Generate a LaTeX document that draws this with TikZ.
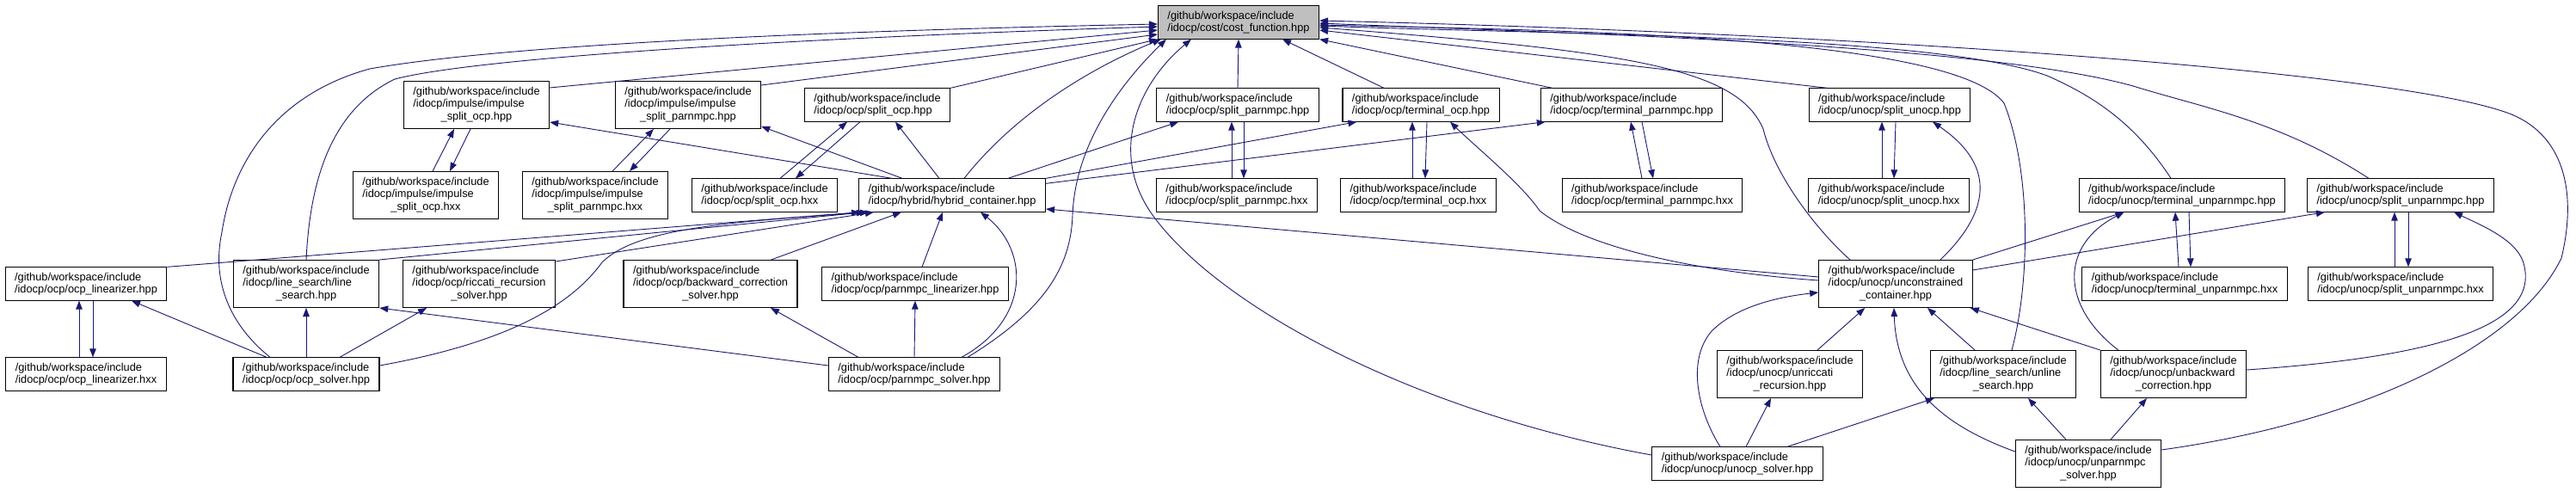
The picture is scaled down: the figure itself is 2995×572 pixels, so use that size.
\documentclass[tikz,border=0pt]{standalone}
\usepackage{fontspec}
\setmainfont{Liberation Sans}
\usetikzlibrary{arrows.meta}
\definecolor{dxblue}{RGB}{25,25,112}
\definecolor{dxgray}{RGB}{191,191,191}
\newcommand{\wsinc}{/github/workspace/include}
\newcommand{\threeln}[3]{\begin{tabular}{@{}l@{}}#1\\#2\\\multicolumn{1}{@{}c@{}}{#3}\end{tabular}}

\begin{document}
\begin{tikzpicture}[
  x=1pt,y=1pt,
  font=\fontsize{12.8}{14.3}\selectfont,
  file/.style={draw,line width=1.1pt,fill=white,align=left,inner xsep=11pt,inner ysep=6pt},
  root/.style={file,fill=dxgray},
  inc/.style={-{Triangle[length=10pt,width=7.5pt]},dxblue,line width=0.9pt}
]
  \useasboundingbox (0,0) rectangle (2995,-572);
  \node[root] (cost) at (1440,-26) {\wsinc\\/idocp/cost/cost\_function.hpp};
  \node[file] (isocp) at (554,-122) {\threeln{\wsinc}{/idocp/impulse/impulse}{\_split\_ocp.hpp}};
  \node[file] (ispm) at (800,-122) {\threeln{\wsinc}{/idocp/impulse/impulse}{\_split\_parnmpc.hpp}};
  \node[file] (socp) at (1020,-122) {\wsinc\\/idocp/ocp/split\_ocp.hpp};
  \node[file] (spm) at (1439,-122) {\wsinc\\/idocp/ocp/split\_parnmpc.hpp};
  \node[file] (tocp) at (1652,-122) {\wsinc\\/idocp/ocp/terminal\_ocp.hpp};
  \node[file] (tpm) at (1897,-122) {\wsinc\\/idocp/ocp/terminal\_parnmpc.hpp};
  \node[file] (suocp) at (2197,-122) {\wsinc\\/idocp/unocp/split\_unocp.hpp};
  \node[file] (isocpx) at (495,-227) {\threeln{\wsinc}{/idocp/impulse/impulse}{\_split\_ocp.hxx}};
  \node[file] (ispmx) at (692,-227) {\threeln{\wsinc}{/idocp/impulse/impulse}{\_split\_parnmpc.hxx}};
  \node[file] (socpx) at (889,-227) {\wsinc\\/idocp/ocp/split\_ocp.hxx};
  \node[file] (hyb) at (1107,-227) {\wsinc\\/idocp/hybrid/hybrid\_container.hpp};
  \node[file] (spmx) at (1438,-227) {\wsinc\\/idocp/ocp/split\_parnmpc.hxx};
  \node[file] (tocpx) at (1649,-227) {\wsinc\\/idocp/ocp/terminal\_ocp.hxx};
  \node[file] (tpmx) at (1921,-227) {\wsinc\\/idocp/ocp/terminal\_parnmpc.hxx};
  \node[file] (suocpx) at (2196,-227) {\wsinc\\/idocp/unocp/split\_unocp.hxx};
  \node[file] (tupm) at (2537,-227) {\wsinc\\/idocp/unocp/terminal\_unparnmpc.hpp};
  \node[file] (supm) at (2791,-227) {\wsinc\\/idocp/unocp/split\_unparnmpc.hpp};
  \node[file] (olin) at (100,-330) {\wsinc\\/idocp/ocp/ocp\_linearizer.hpp};
  \node[file] (ls) at (356,-330) {\threeln{\wsinc}{/idocp/line\_search/line}{\_search.hpp}};
  \node[file] (ric) at (557,-330) {\threeln{\wsinc}{/idocp/ocp/riccati\_recursion}{\_solver.hpp}};
  \node[file] (bwc) at (826,-330) {\threeln{\wsinc}{/idocp/ocp/backward\_correction}{\_solver.hpp}};
  \node[file] (pmlin) at (1064,-330) {\wsinc\\/idocp/ocp/parnmpc\_linearizer.hpp};
  \node[file] (ucont) at (2204,-330) {\threeln{\wsinc}{/idocp/unocp/unconstrained}{\_container.hpp}};
  \node[file] (tupmx) at (2540,-330) {\wsinc\\/idocp/unocp/terminal\_unparnmpc.hxx};
  \node[file] (supmx) at (2791,-330) {\wsinc\\/idocp/unocp/split\_unparnmpc.hxx};
  \node[file] (olinx) at (100,-435) {\wsinc\\/idocp/ocp/ocp\_linearizer.hxx};
  \node[file] (osol) at (356,-435) {\wsinc\\/idocp/ocp/ocp\_solver.hpp};
  \node[file] (pmsol) at (1063,-435) {\wsinc\\/idocp/ocp/parnmpc\_solver.hpp};
  \node[file] (uric) at (2081,-435) {\threeln{\wsinc}{/idocp/unocp/unriccati}{\_recursion.hpp}};
  \node[file] (uls) at (2329,-435) {\threeln{\wsinc}{/idocp/line\_search/unline}{\_search.hpp}};
  \node[file] (ubwc) at (2527,-435) {\threeln{\wsinc}{/idocp/unocp/unbackward}{\_correction.hpp}};
  \node[file] (usol) at (2020,-539) {\wsinc\\/idocp/unocp/unocp\_solver.hpp};
  \node[file] (upmsol) at (2428,-539) {\threeln{\wsinc}{/idocp/unocp/unparnmpc}{\_solver.hpp}};

  \draw[inc] ([xshift=8pt]isocpx.north) -- ([xshift=-26pt]isocp.south);
  \draw[inc] ([xshift=-7pt]isocp.south) -- ([xshift=28pt]isocpx.north);
  \draw[inc] ([xshift=20pt]ispmx.north) -- ([xshift=-40pt]ispm.south);
  \draw[inc] ([xshift=-21pt]ispm.south) -- ([xshift=40pt]ispmx.north);
  \draw[inc] ([xshift=18pt]socpx.north) -- ([xshift=-35pt]socp.south);
  \draw[inc] ([xshift=-20pt]socp.south) -- ([xshift=36pt]socpx.north);
  \draw[inc] ([xshift=-6pt]spmx.north) -- ([xshift=-7pt]spm.south);
  \draw[inc] ([xshift=7pt]spm.south) -- ([xshift=8pt]spmx.north);
  \draw[inc] ([xshift=-7pt]tocpx.north) -- ([xshift=-10pt]tocp.south);
  \draw[inc] ([xshift=7pt]tocp.south) -- ([xshift=8pt]tocpx.north);
  \draw[inc] ([xshift=-12pt]tpmx.north) -- ([xshift=-1pt]tpm.south);
  \draw[inc] ([xshift=12pt]tpm.south) -- ([xshift=1pt]tpmx.north);
  \draw[inc] ([xshift=-8pt]suocpx.north) -- ([xshift=-9pt]suocp.south);
  \draw[inc] ([xshift=7pt]suocp.south) -- ([xshift=6pt]suocpx.north);
  \draw[inc] ([xshift=-7pt]tupmx.north) -- ([xshift=-8pt]tupm.south);
  \draw[inc] ([xshift=8pt]tupm.south) -- ([xshift=7pt]tupmx.north);
  \draw[inc] ([xshift=-7pt]supmx.north) -- ([xshift=-7pt]supm.south);
  \draw[inc] ([xshift=9pt]supm.south) -- ([xshift=9pt]supmx.north);
  \draw[inc] ([xshift=-8pt]olinx.north) -- ([xshift=-8pt]olin.south);
  \draw[inc] ([xshift=8pt]olin.south) -- ([xshift=8pt]olinx.north);

  \draw[inc] ([yshift=-8pt]isocp.north east) -- ([yshift=-9pt]cost.west);
  \draw[inc] ([yshift=-5pt]ispm.north east) -- ([yshift=-14pt]cost.west);
  \draw[inc] (socp.north east) -- (cost.south west);
  \draw[inc] ([xshift=14pt]hyb.north) .. controls (1190,-120) and (1290,-70) .. ([xshift=4pt]cost.south west);
  \draw[inc] ([xshift=-42pt]osol.north) .. controls (270,-380) and (245,-330) .. (258,-270)
    .. controls (270,-190) and (320,-110) .. (430,-80) .. controls (600,-50) and (1000,-35) .. ([yshift=-2pt]cost.west);
  \draw[inc] (ls.north) .. controls (360,-220) and (380,-130) .. (459,-92)
    .. controls (550,-68) and (900,-45) .. ([yshift=-5pt]cost.west);
  \draw[inc] ([xshift=62pt]pmsol.north) .. controls (1215,-360) and (1245,-310) .. (1247,-250)
    .. controls (1250,-170) and (1300,-100) .. ([xshift=10pt]cost.south west);
  \draw[inc] ([yshift=10pt]usol.west) .. controls (1650,-480) and (1420,-360) .. (1340,-250)
    .. controls (1290,-180) and (1320,-100) .. ([xshift=39pt]cost.south west);
  \draw[inc] (spm.north) -- (cost.south);
  \draw[inc] ([xshift=-43pt]tocp.north) -- ([xshift=51pt]cost.south);
  \draw[inc] ([xshift=14pt]tpm.north west) -- (cost.south east);
  \draw[inc] ([xshift=22pt]suocp.north west) -- ([yshift=-9pt]cost.east);
  \draw[inc] ([xshift=-53pt]ucont.north) .. controls (2120,-275) and (2065,-210) .. (2050,-150)
    .. controls (2020,-80) and (1900,-60) .. ([yshift=-6pt]cost.east);
  \draw[inc] ([xshift=10pt]uls.north) .. controls (2360,-330) and (2362,-200) .. (2330,-120)
    .. controls (2270,-40) and (1800,-35) .. ([yshift=-3pt]cost.east);
  \draw[inc] ([xshift=-13pt]tupm.north) .. controls (2480,-140) and (2430,-110) .. (2380,-88)
    .. controls (2250,-40) and (1800,-40) .. ([yshift=-4pt]cost.east);
  \draw[inc] ([xshift=-37pt]supm.north) .. controls (2650,-140) and (2560,-125) .. (2480,-100)
    .. controls (2300,-50) and (1800,-38) .. ([yshift=-1pt]cost.east);
  \draw[inc] ([yshift=16pt]upmsol.east) .. controls (2750,-490) and (2930,-400) .. (2978,-300)
    .. controls (2995,-230) and (2985,-160) .. (2920,-133)
    .. controls (2800,-85) and (2200,-40) .. ([yshift=2pt]cost.east);

  \draw[inc] ([xshift=-70pt]hyb.north) -- ([yshift=-20pt]isocp.east);
  \draw[inc] ([xshift=-58pt]hyb.north) -- ([yshift=3pt]ispm.south east);
  \draw[inc] ([xshift=-15pt]hyb.north) -- ([xshift=21pt]socp.south);
  \draw[inc] ([xshift=65pt]hyb.north) -- ([xshift=26pt]spm.south west);
  \draw[inc] (hyb.north east) -- ([xshift=17pt]tocp.south west);
  \draw[inc] ([yshift=-6pt]hyb.north east) -- ([xshift=6pt]tpm.south west);
  \draw[inc] (olin.north east) -- ([xshift=2pt]hyb.south west);
  \draw[inc] (ls.north east) -- ([xshift=8pt]hyb.south west);
  \draw[inc] ([yshift=-2pt]ric.north east) -- ([xshift=18pt]hyb.south west);
  \draw[inc] ([xshift=-31pt]bwc.north east) -- ([xshift=50pt]hyb.south west);
  \draw[inc] ([xshift=8pt]pmlin.north) -- ([xshift=-11pt]hyb.south);
  \draw[inc] ([yshift=10pt]osol.east) .. controls (580,-400) and (660,-360) .. (700,-305)
    .. controls (740,-265) and (850,-258) .. ([xshift=12pt]hyb.south west);
  \draw[inc] ([xshift=55pt]pmsol.north) .. controls (1200,-370) and (1195,-290) .. ([xshift=33pt]hyb.south);
  \draw[inc] ([yshift=8pt]ucont.west) -- ([yshift=-16pt]hyb.east);

  \draw[inc] ([xshift=-46pt]osol.north) -- ([xshift=53pt]olin.south);
  \draw[inc] (osol.north) -- (ls.south);
  \draw[inc] ([xshift=39pt]osol.north) -- ([xshift=-61pt]ric.south);
  \draw[inc] ([yshift=10pt]pmsol.west) -- (ls.south east);
  \draw[inc] ([xshift=-65pt]pmsol.north) -- ([xshift=70pt]bwc.south);
  \draw[inc] (pmsol.north) -- (pmlin.south);

  \draw[inc] ([xshift=52pt]ucont.north) .. controls (2310,-250) and (2325,-195) .. ([xshift=50pt]suocp.south);
  \draw[inc] (ucont.north east) -- ([xshift=53pt]tupm.south west);
  \draw[inc] ([yshift=-12pt]ucont.north east) -- ([xshift=21pt]supm.south west);
  \draw[inc] ([yshift=4pt]ucont.west) .. controls (1960,-315) and (1840,-285) .. (1790,-245)
    .. controls (1770,-215) and (1715,-170) .. ([xshift=34pt]tocp.south);
  \draw[inc] ([xshift=32pt]uric.north) -- ([xshift=54pt]ucont.south west);
  \draw[inc] ([xshift=-33pt]uls.north) -- ([xshift=37pt]ucont.south);
  \draw[inc] (ubwc.north west) -- ([xshift=-3pt]ucont.south east);
  \draw[inc] ([xshift=-20pt]usol.north) .. controls (1975,-480) and (1960,-420) .. (1990,-385)
    .. controls (2020,-355) and (2070,-345) .. ([yshift=-10pt]ucont.west);
  \draw[inc] ([xshift=10pt]usol.north) -- ([xshift=-22pt]uric.south);
  \draw[inc] ([xshift=58pt]usol.north) -- ([xshift=5pt]uls.south west);
  \draw[inc] ([yshift=14pt]upmsol.west) .. controls (2260,-495) and (2205,-450) .. ([xshift=-2pt]ucont.south);
  \draw[inc] ([xshift=-26pt]upmsol.north) -- ([xshift=29pt]uls.south);
  \draw[inc] ([xshift=26pt]upmsol.north) -- ([xshift=-31pt]ubwc.south);
  \draw[inc] ([xshift=21pt]ubwc.north west) .. controls (2395,-355) and (2395,-285) .. ([xshift=53pt]tupm.south west);
  \draw[inc] ([yshift=5pt]ubwc.east) .. controls (2830,-415) and (2950,-380) .. (2935,-310)
    .. controls (2930,-280) and (2885,-262) .. ([xshift=62pt]supm.south);
\end{tikzpicture}
\end{document}
